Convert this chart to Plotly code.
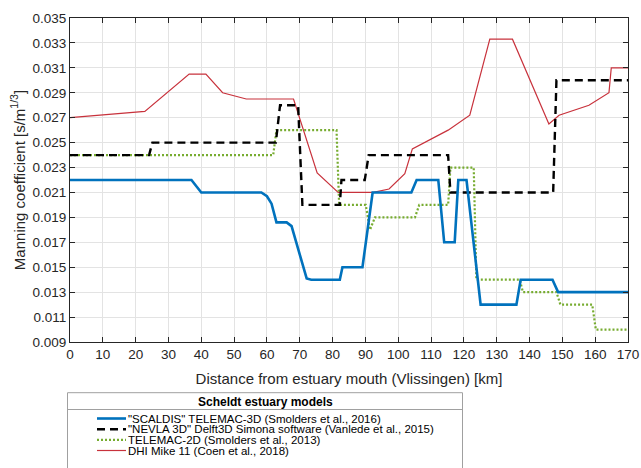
import plotly.graph_objects as go

# ---- data ----
blue_x = [0, 37, 40, 58.3, 60, 61.4, 62.9, 66, 67.5, 70, 72.1, 73.5, 82.2, 83, 89.1, 92.2, 104, 105.6,
          112.2, 114, 117.2, 118.3, 120.8, 125.1, 136, 137.3, 147, 148.7, 170]
blue_y = [0.022, 0.022, 0.021, 0.021, 0.0207, 0.0201, 0.0186, 0.0186, 0.0183, 0.0159, 0.0141, 0.014, 0.014,
          0.015, 0.015, 0.021, 0.021, 0.022, 0.022, 0.017, 0.017, 0.022, 0.022, 0.012, 0.012, 0.014, 0.014,
          0.013, 0.013]

black_x = [0, 24.1, 25.1, 62.7, 64, 69.5, 70.8, 82.2, 82.7, 89.8, 91, 115.2, 115.9, 147.2, 148.2, 170]
black_y = [0.024, 0.024, 0.025, 0.025, 0.028, 0.028, 0.020, 0.020, 0.022, 0.022, 0.024, 0.024, 0.021,
           0.021, 0.030, 0.030]

green_x = [0, 61.9, 62.9, 81.2, 82, 90.1, 91.4, 92.9, 105.1, 106.4, 115.2, 115.9, 123, 123.8, 137, 138,
           148.2, 149.4, 159.1, 160.2, 170]
green_y = [0.024, 0.024, 0.026, 0.026, 0.020, 0.020, 0.018, 0.019, 0.019, 0.020, 0.020, 0.023, 0.023,
           0.014, 0.014, 0.013, 0.013, 0.012, 0.012, 0.010, 0.010]

red_x = [0, 22.8, 36.3, 41.4, 46.5, 53.7, 68.1, 75.3, 81.7, 92.4, 97.2, 102, 104.3, 115.2, 121.8, 127.9,
         134.8, 145.9, 149, 158.1, 164.2, 164.9, 170]
red_y = [0.027, 0.0275, 0.0305, 0.0305, 0.029, 0.0285, 0.0285, 0.02256, 0.021, 0.021, 0.02128, 0.0225,
         0.0245, 0.026, 0.0272, 0.0333, 0.0333, 0.0265, 0.0272, 0.028, 0.029, 0.031, 0.031]

series_names = [
    '"SCALDIS" TELEMAC-3D (Smolders et al., 2016)',
    '"NEVLA 3D" Delft3D Simona software (Vanlede et al., 2015)',
    'TELEMAC-2D (Smolders et al., 2013)',
    'DHI Mike 11 (Coen et al., 2018)',
]
legend_title = "Scheldt estuary models"
x_ticks = list(range(0, 171, 10))
y_ticks = [0.009, 0.011, 0.013, 0.015, 0.017, 0.019, 0.021, 0.023, 0.025, 0.027, 0.029, 0.031, 0.033, 0.035]

# ---- styles ----
styles = [
    dict(color="#0072BD", width=2.6, dash="solid"),
    dict(color="#000000", width=2.4, dash="8px,5px"),
    dict(color="#77AC30", width=2.2, dash="2px,2px"),
    dict(color="#C8323C", width=1.2, dash="solid"),
]
xs = [blue_x, black_x, green_x, red_x]
ys = [blue_y, black_y, green_y, red_y]

fig = go.Figure()
order = [3, 2, 1, 0]
for i in order:
    fig.add_trace(go.Scatter(x=xs[i], y=ys[i], mode="lines", name=series_names[i],
                             line=styles[i], showlegend=False))

FONT = "Liberation Sans, Arial, sans-serif"
axis_col = "#262626"

W, H = 641, 468
L, R, T, B = 70, 13, 18, 126
pw, ph = W - L - R, H - T - B

def px2x(px):
    return (px - L) / pw

def px2y(py):
    return (H - B - py) / ph

fig.update_layout(
    width=W, height=H,
    margin=dict(l=L, r=R, t=T, b=B),
    paper_bgcolor="white", plot_bgcolor="white",
    font=dict(family=FONT, color=axis_col),
    showlegend=False,
    xaxis=dict(range=[0, 170], tickvals=x_ticks, ticks="inside", ticklen=5, tickcolor=axis_col,
               showline=True, linecolor=axis_col, linewidth=1, mirror="ticks",
               showgrid=True, gridcolor="#e3e3e3", gridwidth=1, zeroline=False,
               tickfont=dict(size=13.5, color=axis_col),
               title=dict(text="Distance from estuary mouth (Vlissingen) [km]",
                          font=dict(size=15, color=axis_col), standoff=12),
               automargin=False),
    yaxis=dict(range=[0.009, 0.035], tickvals=y_ticks, tickformat=".3f", ticks="inside", ticklen=5,
               tickcolor=axis_col, showline=True, linecolor=axis_col, linewidth=1, mirror="ticks",
               showgrid=True, gridcolor="#e3e3e3", gridwidth=1, zeroline=False,
               tickfont=dict(size=13.5, color=axis_col),
               title=dict(text="Manning coefficient [s/m<sup>1/3</sup>]",
                          font=dict(size=15, color=axis_col), standoff=3),
               automargin=False),
)

# ---- manual legend box (below the plot) ----
box_l, box_r, box_t, box_b = 67.5, 462.5, 392.7, 472
fig.add_shape(type="rect", xref="paper", yref="paper",
              x0=px2x(box_l), x1=px2x(box_r), y0=px2y(box_b), y1=px2y(box_t),
              line=dict(color="#a0a0a0", width=1), fillcolor="white", layer="above")
fig.add_shape(type="line", xref="paper", yref="paper",
              x0=px2x(box_l), x1=px2x(box_r), y0=px2y(409.5), y1=px2y(409.5),
              line=dict(color="#a0a0a0", width=1))
fig.add_annotation(xref="paper", yref="paper", x=px2x((box_l + box_r) / 2), y=px2y(401.5),
                   text="<b>" + legend_title + "</b>", showarrow=False, xanchor="center",
                   yanchor="middle", font=dict(size=12, color="#000000", family=FONT))
row_y = [418.5, 429.2, 439.8, 450.5]
for i, name in enumerate(series_names):
    st = styles[i]
    fig.add_shape(type="line", xref="paper", yref="paper",
                  x0=px2x(97), x1=px2x(126), y0=px2y(row_y[i]), y1=px2y(row_y[i]),
                  line=dict(color=st["color"], width=st["width"], dash=st["dash"]))
    fig.add_annotation(xref="paper", yref="paper", x=px2x(127), y=px2y(row_y[i]),
                       text=name, showarrow=False, xanchor="left", yanchor="middle",
                       borderpad=0,
                       font=dict(size=11.5, color="#000000", family=FONT))

fig.write_html("out.html")
